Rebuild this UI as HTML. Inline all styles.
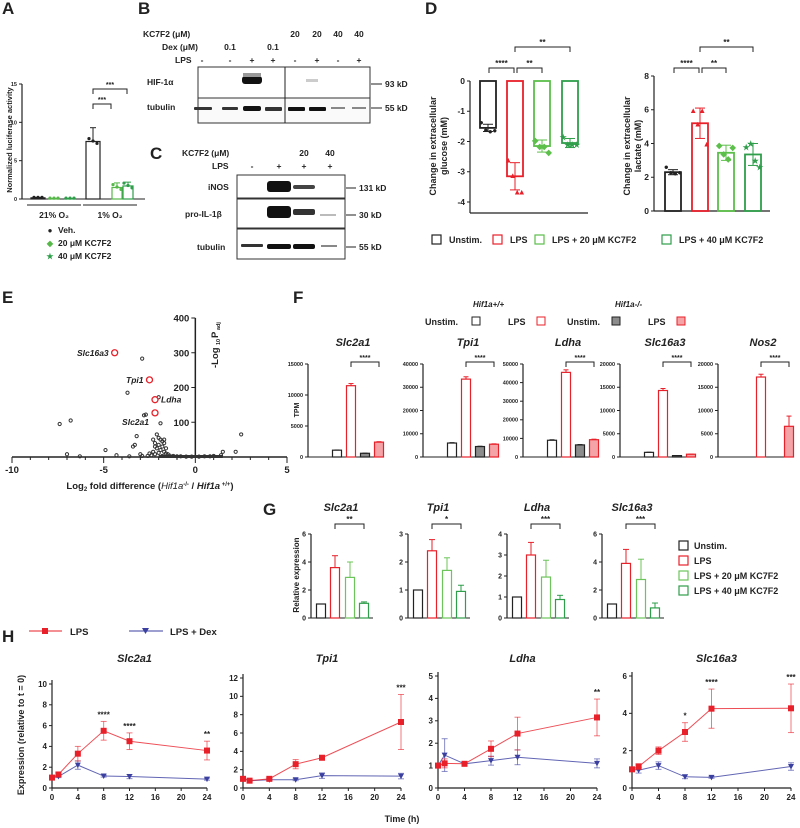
<!DOCTYPE html>
<html><head><meta charset="utf-8">
<style>
html,body{margin:0;padding:0;background:#fff;}
svg{display:block;font-family:"Liberation Sans",Arial,sans-serif;font-weight:bold;}
text{fill:#222;}
.it{font-style:italic;}
</style></head>
<body>
<svg id="fig" width="800" height="828" viewBox="0 0 800 828" xmlns="http://www.w3.org/2000/svg">
<g font-size="17">
<text x="2" y="14">A</text>
<text x="138" y="14">B</text>
<text x="150" y="159">C</text>
<text x="425" y="14">D</text>
<text x="2" y="303">E</text>
<text x="293" y="303">F</text>
<text x="263" y="515">G</text>
<text x="2" y="642">H</text>
</g>

<g font-size="8.5">
<text x="143" y="37">KC7F2 (μM)</text>
<text x="162" y="50">Dex (μM)</text>
<text x="175" y="63">LPS</text>
<g text-anchor="middle">
<text x="230" y="50">0.1</text><text x="273" y="50">0.1</text>
<text x="295" y="37">20</text><text x="317" y="37">20</text><text x="338" y="37">40</text><text x="359" y="37">40</text>
<text x="202" y="63">-</text><text x="230" y="63">-</text><text x="252" y="63">+</text><text x="273" y="63">+</text>
<text x="295" y="63">-</text><text x="317" y="63">+</text><text x="338" y="63">-</text><text x="359" y="63">+</text>
</g>
<rect x="198" y="67" width="172" height="31" fill="#fff" stroke="#333" stroke-width="1"/>
<rect x="198" y="98" width="172" height="25" fill="#fafafa" stroke="#333" stroke-width="1"/>
<line x1="285" y1="67" x2="285" y2="123" stroke="#222" stroke-width="1"/>
<rect x="242" y="76" width="20" height="8" rx="3" fill="#111"/>
<rect x="243" y="73" width="18" height="4" fill="#999"/>
<rect x="306" y="79" width="12" height="3" fill="#ccc"/>
<g fill="#333">
<rect x="194" y="107" width="18" height="3" rx="1"/><rect x="222" y="107" width="16" height="3" rx="1"/>
<rect x="243" y="106" width="18" height="5" rx="2" fill="#111"/><rect x="265" y="107" width="17" height="4" rx="1"/>
<rect x="288" y="107" width="17" height="4" rx="1" fill="#111"/><rect x="309" y="107" width="17" height="4" rx="1" fill="#111"/>
<rect x="331" y="107" width="14" height="2" fill="#888"/><rect x="352" y="107" width="14" height="2" fill="#888"/>
</g>
<text x="147" y="85">HIF-1α</text>
<text x="147" y="110">tubulin</text>
<line x1="371" y1="84" x2="382" y2="84" stroke="#222"/><line x1="371" y1="108" x2="382" y2="108" stroke="#222"/>
<text x="385" y="87">93 kD</text><text x="385" y="111">55 kD</text>
</g>

<g font-size="8.5">
<text x="182" y="156">KC7F2 (μM)</text>
<text x="212" y="169">LPS</text>
<g text-anchor="middle">
<text x="304" y="156">20</text><text x="330" y="156">40</text>
<text x="252" y="169">-</text><text x="279" y="169">+</text><text x="304" y="169">+</text><text x="330" y="169">+</text>
</g>
<rect x="237" y="175" width="108" height="23" fill="#fff" stroke="#333"/>
<rect x="237" y="199" width="108" height="29" fill="#fff" stroke="#333"/>
<rect x="237" y="229" width="108" height="30" fill="#fff" stroke="#333"/>
<rect x="267" y="181" width="24" height="11" rx="3" fill="#111"/>
<rect x="293" y="185" width="22" height="4" rx="2" fill="#444"/>
<rect x="267" y="206" width="24" height="12" rx="3" fill="#111"/>
<rect x="293" y="209" width="22" height="6" rx="2" fill="#333"/>
<rect x="320" y="214" width="16" height="2" fill="#bbb"/>
<rect x="241" y="244" width="22" height="3" rx="1" fill="#333"/>
<rect x="267" y="244" width="24" height="5" rx="2" fill="#111"/>
<rect x="293" y="244" width="22" height="5" rx="2" fill="#111"/>
<rect x="321" y="245" width="16" height="2" fill="#888"/>
<text x="208" y="190">iNOS</text>
<text x="185" y="217">pro-IL-1β</text>
<text x="197" y="250">tubulin</text>
<line x1="346" y1="188" x2="356" y2="188" stroke="#222"/><line x1="346" y1="215" x2="356" y2="215" stroke="#222"/><line x1="346" y1="247" x2="356" y2="247" stroke="#222"/>
<text x="359" y="191">131 kD</text><text x="359" y="218">30 kD</text><text x="359" y="250">55 kD</text>
</g>

<g id="charts"></g>
</svg>

<script>
// Panel A
const aGroups = ['21% O₂', '1% O₂'];
const aVeh = [0.15, 7.5];
const aVehErr = [0.05, 1.8];
const aK20 = [0.05, 1.5];
const aK20Err = [0.02, 0.6];
const aK40 = [0.05, 1.7];
const aK40Err = [0.02, 0.5];
const aTicks = [0, 5, 10, 15];

// Panel D
const dCats = ['Unstim.', 'LPS', 'LPS + 20 μM KC7F2', 'LPS + 40 μM KC7F2'];
const dGlucose = [-1.55, -3.15, -2.15, -2.05];
const dGlucoseErr = [0.12, 0.45, 0.2, 0.15];
const dGlucosePts = [[-1.35, -1.6, -1.65, -1.62], [-2.6, -3.1, -3.65, -3.65], [-1.95, -2.15, -2.15, -2.35], [-1.85, -2.1, -2.1, -2.1]];
const dGlucoseTicks = [0, -1, -2, -3, -4];
const dLactate = [2.3, 5.2, 3.45, 3.35];
const dLactateErr = [0.15, 0.9, 0.45, 0.65];
const dLactatePts = [[2.65, 2.3, 2.25, 2.3], [6.0, 5.2, 6.0, 4.0], [3.9, 3.4, 3.1, 3.8], [3.8, 4.0, 3.0, 2.6]];
const dLactateTicks = [0, 2, 4, 6, 8];

// Panel E volcano
const eGrey = [[-7.4,95],[-6.8,105],[-7.0,8],[-6.3,2],[-4.9,20],[-4.3,5],[-3.7,185],[-2.9,283],[-3.4,30],[-3.3,35],[-3.2,60],[-2.9,3],[-2.8,120],[-2.7,122],[-2.0,172],[-1.9,97],[-2.1,65],[-2.0,55],[-1.9,50],[-1.8,45],[-1.7,50],[-2.2,40],[-2.0,35],[-1.8,30],[-2.1,25],[-1.9,20],[-1.7,15],[-2.3,15],[-1.6,10],[-1.5,8],[-2.4,5],[-2.6,3],[-1.4,4],[-1.2,3],[-1.0,2],[-0.8,2],[-0.5,1],[-0.2,1],[0.2,1],[0.5,2],[0.8,2],[1.0,3],[1.4,5],[1.5,15],[2.2,15],[2.5,65],[-3.6,2],[-3.0,8],[-2.5,10],[-2.2,8],[-1.8,3],[-2.0,12],[-1.6,25],[-2.2,30],[-2.3,50],[-1.7,40]];
const eRedNames = ['Slc16a3', 'Tpi1', 'Ldha', 'Slc2a1'];
const eRedX = [-4.4, -2.5, -2.2, -2.2];
const eRedY = [300, 222, 165, 127];
const eXTicks = [-10, -5, 0, 5];
const eYTicks = [100, 200, 300, 400];

// Panel F (TPM)
const fGenes = ['Slc2a1', 'Tpi1', 'Ldha', 'Slc16a3', 'Nos2'];
const fMax = [15000, 40000, 50000, 20000, 20000];
const fStep = [5000, 10000, 10000, 5000, 5000];
const fSlc2a1 = [1100, 11500, 600, 2400];
const fTpi1 = [6000, 33500, 4500, 5500];
const fLdha = [9000, 45500, 6500, 9300];
const fSlc16a3 = [1000, 14300, 300, 600];
const fNos2 = [0, 17200, 0, 6600];
const fNos2Err = [0, 600, 0, 2200];

// Panel G
const gGenes = ['Slc2a1', 'Tpi1', 'Ldha', 'Slc16a3'];
const gMax = [6, 3, 4, 6];
const gStep = [2, 1, 1, 2];
const gStars = ['**', '*', '***', '***'];
const gSlc2a1 = [1, 3.6, 2.9, 1.05];
const gSlc2a1Err = [0, 0.85, 1.1, 0.1];
const gTpi1 = [1, 2.4, 1.7, 0.95];
const gTpi1Err = [0, 0.4, 0.45, 0.22];
const gLdha = [1, 3.0, 1.95, 0.88];
const gLdhaErr = [0, 0.6, 0.8, 0.2];
const gSlc16a3 = [1, 3.9, 2.75, 0.72];
const gSlc16a3Err = [0, 1.0, 1.45, 0.35];

// Panel H
const hTimes = [0, 1, 4, 8, 12, 24];
const hGenes = ['Slc2a1', 'Tpi1', 'Ldha', 'Slc16a3'];
const hYMax = [10, 12, 5, 6];
const hYStep = [2, 2, 1, 2];
const hSlc2a1Lps = [1, 1.3, 3.3, 5.5, 4.5, 3.6];
const hSlc2a1LpsErr = [0.1, 0.2, 0.7, 0.9, 0.8, 0.9];
const hSlc2a1Dex = [1, 1.1, 2.2, 1.15, 1.1, 0.85];
const hSlc2a1DexErr = [0.1, 0.1, 0.4, 0.1, 0.2, 0.1];
const hSlc2a1Stars = ['', '', '', '****', '****', '**'];
const hTpi1Lps = [1, 0.8, 1.0, 2.6, 3.3, 7.2];
const hTpi1LpsErr = [0.2, 0.1, 0.1, 0.5, 0.25, 3.0];
const hTpi1Dex = [1, 0.8, 0.9, 0.9, 1.35, 1.3];
const hTpi1DexErr = [0.1, 0.1, 0.1, 0.1, 0.3, 0.3];
const hTpi1Stars = ['', '', '', '', '', '***'];
const hLdhaLps = [1, 1.1, 1.08, 1.75, 2.43, 3.15];
const hLdhaLpsErr = [0.1, 0.2, 0.05, 0.35, 0.73, 0.82];
const hLdhaDex = [1, 1.47, 1.08, 1.22, 1.37, 1.1];
const hLdhaDexErr = [0.1, 0.73, 0.05, 0.2, 0.33, 0.2];
const hLdhaStars = ['', '', '', '', '', '**'];
const hSlc16a3Lps = [1, 1.15, 2.0, 3.0, 4.25, 4.27];
const hSlc16a3LpsErr = [0.1, 0.15, 0.2, 0.5, 1.05, 1.3];
const hSlc16a3Dex = [1, 0.95, 1.2, 0.6, 0.57, 1.15];
const hSlc16a3DexErr = [0.1, 0.15, 0.2, 0.1, 0.05, 0.2];
const hSlc16a3Stars = ['', '', '', '*', '****', '***'];

const NS = 'http://www.w3.org/2000/svg';
const root = document.getElementById('charts');
function mk(tag, attrs, parent) {
  const e = document.createElementNS(NS, tag);
  for (const k in attrs) e.setAttribute(k, attrs[k]);
  (parent || root).appendChild(e);
  return e;
}
function txt(x, y, s, attrs, parent) {
  const t = mk('text', Object.assign({x: x, y: y}, attrs || {}), parent);
  t.textContent = s;
  return t;
}
function lin(d0, d1, r0, r1) { return v => r0 + (v - d0) * (r1 - r0) / (d1 - d0); }
function line(x1, y1, x2, y2, stroke, w, parent) {
  return mk('line', {x1: x1, y1: y1, x2: x2, y2: y2, stroke: stroke || '#222', 'stroke-width': w || 1}, parent);
}
function bracket(x1, x2, y, stars, fs, parent) {
  const g = mk('g', {}, parent);
  
  
  mk('path', {d: `M${x1},${y + 5}V${y}H${x2}V${y + 5}`, fill: 'none', stroke: '#222', 'stroke-width': 1}, g);
  txt((x1 + x2) / 2, y - 2, stars, {'font-size': fs || 8, 'text-anchor': 'middle'}, g);
}
function yAxis(x, y0, y1, ticks, scale, fs, parent, fmt) {
  const g = mk('g', {}, parent);
  
  
  line(x, y0, x, y1, '#222', 1.2, g);
  ticks.forEach(t => {
    const y = scale(t);
    line(x - 3, y, x, y, '#222', 1, g);
    txt(x - 5, y + fs * 0.35, fmt ? fmt(t) : String(t), {'font-size': fs, 'text-anchor': 'end'}, g);
  });
  return g;
}

// PANEL A
(function () {
  const g = mk('g', {});
  
  
  const y = lin(0, 15, 199, 84);
  yAxis(22, 84, 199, aTicks, y, 5.5, g);
  line(22, 199, 145, 199, '#222', 1, g);
  const centers = [54, 110];
  const offs = [-17, 7, 18];
  const widths = [14, 10, 10];
  const cols = ['#222', '#55b848', '#2e9e4a'];
  const vals = [aVeh, aK20, aK40];
  const errs = [aVehErr, aK20Err, aK40Err];
  aGroups.forEach((grp, gi) => {
    vals.forEach((arr, si) => {
      const cx = centers[gi] + (gi === 0 ? (si - 1) * 16 : offs[si]);
      const w = widths[si];
      const v = arr[gi], e = errs[si][gi];
      const r = mk('rect', {x: cx - w / 2, y: y(v), width: w, height: y(0) - y(v), fill: 'none', stroke: cols[si], 'stroke-width': 1.2}, g);
      
      
      line(cx, y(v), cx, y(v + e), cols[si], 1, g);
      line(cx - 3, y(v + e), cx + 3, y(v + e), cols[si], 1, g);
      [-4, 0, 4].forEach(d => mk('circle', {cx: cx + d, cy: y(v) - 0.5 + (gi === 1 ? d * 0.6 : 0), r: 1.6, fill: cols[si]}, g));
    });
    line(centers[gi] - 27, 205, centers[gi] + 27, 205, '#222', 1, g);
    txt(centers[gi], 218, grp, {'font-size': 8.5, 'text-anchor': 'middle'}, g);
  });
  bracket(93, 111, 104, '***', 7, g);
  bracket(93, 127, 89, '***', 7, g);
  const yl = txt(0, 0, 'Normalized luciferase activity', {'font-size': 7.5, 'text-anchor': 'middle', transform: 'translate(12,140) rotate(-90)'}, g);
  
  
  const leg = [['Veh.', '#222', '●'], ['20 μM KC7F2', '#55b848', '◆'], ['40 μM KC7F2', '#2e9e4a', '★']];
  leg.forEach((l, i) => {
    const lg = mk('g', {}, g);
    
    
    const m = txt(50, 233 + i * 13, l[2], {'font-size': 8, 'text-anchor': 'middle'}, lg);
    m.style.fill = l[1];
    txt(58, 233 + i * 13, l[0], {'font-size': 8.5}, lg);
  });
})();

// PANEL D
const dCols = ['#222', '#e8202a', '#5cbf4a', '#2e9e4a'];
const dMarks = ['●', '▲', '◆', '★'];
function drawD(vals, errs, pts, ticks, axX, y0px, dTop, dBot, yTopPx, yBotPx, xEnd, bx, name, lab1, lab2, labOff) {
  const g = mk('g', {});
  
  
  const y = lin(dTop, dBot, yTopPx, yBotPx);
  yAxis(axX, Math.min(yTopPx, yBotPx), Math.max(yTopPx, yBotPx, y0px), ticks, y, 8.5, g);
  line(axX, y0px, xEnd, y0px, '#222', 1.2, g);
  vals.forEach((v, i) => {
    const cx = bx[i];
    const top = Math.min(y(0), y(v)), h = Math.abs(y(v) - y(0));
    const r = mk('rect', {x: cx - 8, y: top, width: 16, height: h, fill: 'none', stroke: dCols[i], 'stroke-width': 1.8}, g);
    
    
    const ye1 = y(v + errs[i]), ye2 = y(v - errs[i]);
    line(cx, ye1, cx, ye2, dCols[i], 1, g);
    line(cx - 5, ye1, cx + 5, ye1, dCols[i], 1, g);
    line(cx - 5, ye2, cx + 5, ye2, dCols[i], 1, g);
    pts[i].forEach((p, k) => {
      const m = txt(cx + (k - 1.5) * 4.5, y(p) + 3, dMarks[i], {'font-size': 8, 'text-anchor': 'middle'}, g);
      m.style.fill = dCols[i];
    });
  });
  const yl = txt(0, 0, lab1, {'font-size': 9, 'text-anchor': 'middle', transform: `translate(${axX - labOff},146) rotate(-90)`}, g);
  
  
  txt(0, 0, lab2, {'font-size': 9, 'text-anchor': 'middle', transform: `translate(${axX - labOff + 11},146) rotate(-90)`}, g);
  bracket(bx[0] + 1, bx[1] - 1, 68, '****', 8, g);
  bracket(bx[1] + 2, bx[2], 68, '**', 8, g);
  bracket(bx[1], bx[3], 47, '**', 8, g);
}
drawD(dGlucose, dGlucoseErr, dGlucosePts, dGlucoseTicks, 470, 213, 0, -4, 81, 202, 588, [488, 515, 542, 570], 'panel-d-glucose-chart', 'Change in extracellular', 'glucose (mM)', 34);
drawD(dLactate, dLactateErr, dLactatePts, dLactateTicks, 654, 211, 0, 8, 211, 76, 770, [673, 700, 726, 753], 'panel-d-lactate-chart', 'Change in extracellular', 'lactate (mM)', 24);
(function () {
  const g = mk('g', {});
  
  
  const xs = [432, 493, 535, 662];
  dCats.forEach((c, i) => {
    const lg = mk('g', {}, g);
    
    
    mk('rect', {x: xs[i], y: 235, width: 9, height: 9, fill: 'none', stroke: dCols[i], 'stroke-width': 1.2}, lg);
    txt(xs[i] + 17, 243, c, {'font-size': 9}, lg);
  });
})();

// PANEL E
(function () {
  const g = mk('g', {});
  
  
  const x = lin(-10, 5, 12, 287);
  const y = lin(0, 400, 457, 318);
  line(12, 457, 287, 457, '#222', 1.5, g);
  for (let t = -10; t <= 5; t++) line(x(t), 457, x(t), t % 5 === 0 ? 463 : 460, '#222', 1, g);
  eXTicks.forEach(t => txt(x(t), 473, String(t), {'font-size': 9.5, 'text-anchor': 'middle'}, g));
  line(x(0), 318, x(0), 457, '#222', 1.5, g);
  eYTicks.forEach(t => {
    line(x(0) - 4, y(t), x(0), y(t), '#222', 1, g);
    txt(x(0) - 6, y(t) + 3.5, String(t), {'font-size': 9.5, 'text-anchor': 'end'}, g);
  });
  mk('rect', {x: x(-2), y: 455, width: x(1.5) - x(-2), height: 3, fill: '#333'}, g);
  eGrey.forEach(p => {
    const c = mk('circle', {cx: x(p[0]), cy: y(p[1]), r: 1.6, fill: 'none', stroke: '#333', 'stroke-width': 1}, g);
    
    
  });
  const lx = [-1, -1, 1, -1];
  const ly = [3, 3, 3, 12];
  eRedNames.forEach((n, i) => {
    const c = mk('circle', {cx: x(eRedX[i]), cy: y(eRedY[i]), r: 3, fill: 'none', stroke: '#e8202a', 'stroke-width': 1.3}, g);
    
    
    txt(x(eRedX[i]) + lx[i] * 6, y(eRedY[i]) + ly[i], n, {'font-size': 8.5, 'text-anchor': lx[i] < 0 ? 'end' : 'start', 'class': 'it'}, g);
  });
  const yl = txt(0, 0, '-Log', {'font-size': 9.5, 'text-anchor': 'start', transform: 'translate(218,368) rotate(-90)'}, g);
  
  
  txt(0, 0, '10', {'font-size': 5.5, transform: 'translate(220,345) rotate(-90)'}, g);
  txt(0, 0, 'P', {'font-size': 9.5, transform: 'translate(218,338) rotate(-90)'}, g);
  txt(0, 0, 'adj', {'font-size': 5.5, transform: 'translate(220,330) rotate(-90)'}, g);
  const xl = mk('text', {x: 150, y: 489, 'font-size': 9.5, 'text-anchor': 'middle'}, g);
  
  
  xl.innerHTML = 'Log<tspan font-size="6" dy="2">2</tspan><tspan dy="-2"> fold difference (</tspan><tspan font-style="italic" font-weight="normal">Hif1a</tspan><tspan font-size="6" dy="-3">-/-</tspan><tspan dy="3"> / </tspan><tspan font-style="italic">Hif1a</tspan><tspan font-size="6" dy="-3"> +/+</tspan><tspan dy="3">)</tspan>';
})();

// PANEL F
const fFill = ['none', 'none', '#8c8c8c', '#f4a3a6'];
const fStroke = ['#222', '#e8202a', '#222', '#e8202a'];
(function () {
  const leg = mk('g', {});
  
  
  txt(473, 307, 'Hif1a+/+', {'font-size': 8, 'class': 'it'}, leg);
  txt(615, 307, 'Hif1a-/-', {'font-size': 8, 'class': 'it'}, leg);
  const labs = ['Unstim.', 'LPS', 'Unstim.', 'LPS'];
  const tx = [425, 508, 567, 648];
  const bxs = [472, 537, 612, 677];
  labs.forEach((l, i) => {
    const e = mk('g', {}, leg);
    
    
    txt(tx[i], 325, l, {'font-size': 9}, e);
    mk('rect', {x: bxs[i], y: 317, width: 8, height: 8, fill: fFill[i] === 'none' ? '#fff' : fFill[i], stroke: fStroke[i], 'stroke-width': 1}, e);
  });
  const all = [fSlc2a1, fTpi1, fLdha, fSlc16a3, fNos2];
  const axXs = [308, 423, 523, 620, 718];
  fGenes.forEach((gname, ci) => {
    const g = mk('g', {});
    
    
    const ax = axXs[ci];
    const y = lin(0, fMax[ci], 457, 364);
    const ticks = [];
    for (let t = 0; t <= fMax[ci]; t += fStep[ci]) ticks.push(t);
    yAxis(ax, 364, 457, ticks, y, 5.5, g);
    line(ax, 457, ax + 75, 457, '#222', 1, g);
    txt(ax + 45, 346, gname, {'font-size': 11, 'text-anchor': 'middle', 'class': 'it'}, g);
    const bx = [ax + 29, ax + 43, ax + 57, ax + 71];
    all[ci].forEach((v, i) => {
      if (v <= 0) return;
      const r = mk('rect', {x: bx[i] - 4.5, y: y(v), width: 9, height: y(0) - y(v), fill: fFill[i], stroke: fStroke[i], 'stroke-width': 1.2}, g);
      
      
      const e = ci === 4 ? fNos2Err[i] : v * 0.03;
      line(bx[i], y(v), bx[i], y(v + e), fStroke[i], 1, g);
      line(bx[i] - 2.5, y(v + e), bx[i] + 2.5, y(v + e), fStroke[i], 1, g);
    });
    bracket(bx[1], bx[3], 362, '****', 7, g);
  });
  const tl = txt(0, 0, 'TPM', {'font-size': 7, 'text-anchor': 'middle', transform: 'translate(299,410) rotate(-90)'});
  
  
})();

// PANEL G
const gCols = ['#222', '#e8202a', '#6cc45a', '#2e9e4a'];
(function () {
  const all = [gSlc2a1, gTpi1, gLdha, gSlc16a3];
  const allE = [gSlc2a1Err, gTpi1Err, gLdhaErr, gSlc16a3Err];
  const axXs = [311, 408, 507, 602];
  gGenes.forEach((gname, ci) => {
    const g = mk('g', {});
    
    
    const ax = axXs[ci];
    const y = lin(0, gMax[ci], 618, 534);
    const ticks = [];
    for (let t = 0; t <= gMax[ci]; t += gStep[ci]) ticks.push(t);
    yAxis(ax, 534, 618, ticks, y, 7, g);
    line(ax, 618, ax + 62, 618, '#222', 1, g);
    txt(ax + 30, 511, gname, {'font-size': 11, 'text-anchor': 'middle', 'class': 'it'}, g);
    const bx = [ax + 10, ax + 24, ax + 39, ax + 53];
    all[ci].forEach((v, i) => {
      const r = mk('rect', {x: bx[i] - 4.5, y: y(v), width: 9, height: y(0) - y(v), fill: 'none', stroke: gCols[i], 'stroke-width': 1.2}, g);
      
      
      const e = allE[ci][i];
      if (e > 0) {
        line(bx[i], y(v), bx[i], y(v + e), gCols[i], 1, g);
        line(bx[i] - 3, y(v + e), bx[i] + 3, y(v + e), gCols[i], 1, g);
      }
    });
    bracket(bx[1], bx[3], 524, gStars[ci], 8, g);
  });
  const yl = txt(0, 0, 'Relative expression', {'font-size': 8, 'text-anchor': 'middle', transform: 'translate(299,575) rotate(-90)'});
  
  
  const leg = mk('g', {});
  
  
  dCats.forEach((c, i) => {
    const e = mk('g', {}, leg);
    
    
    mk('rect', {x: 679, y: 541 + i * 15, width: 9, height: 9, fill: 'none', stroke: gCols[i], 'stroke-width': 1.2}, e);
    txt(694, 549 + i * 15, c, {'font-size': 9}, e);
  });
})();

// PANEL H
(function () {
  const leg = mk('g', {});
  
  
  const e1 = mk('g', {}, leg);
  
  
  line(29, 631, 62, 631, '#e8202a', 1, e1);
  mk('rect', {x: 42, y: 628, width: 6, height: 6, fill: '#e8202a'}, e1);
  txt(70, 635, 'LPS', {'font-size': 9.5}, e1);
  const e2 = mk('g', {}, leg);
  
  
  line(129, 631, 163, 631, '#3a3fa0', 1, e2);
  mk('path', {d: 'M142,628L149,628L145.5,634Z', fill: '#3a3fa0'}, e2);
  txt(170, 635, 'LPS + Dex', {'font-size': 9.5}, e2);

  const lps = [hSlc2a1Lps, hTpi1Lps, hLdhaLps, hSlc16a3Lps];
  const lpsE = [hSlc2a1LpsErr, hTpi1LpsErr, hLdhaLpsErr, hSlc16a3LpsErr];
  const dex = [hSlc2a1Dex, hTpi1Dex, hLdhaDex, hSlc16a3Dex];
  const dexE = [hSlc2a1DexErr, hTpi1DexErr, hLdhaDexErr, hSlc16a3DexErr];
  const stars = [hSlc2a1Stars, hTpi1Stars, hLdhaStars, hSlc16a3Stars];
  const ax0 = [52, 243, 438, 632];
  const ax24 = [207, 401, 597, 791];
  const yTopPx = [684, 678, 676, 676];
  hGenes.forEach((gname, ci) => {
    const g = mk('g', {});
    
    
    const x = lin(0, 24, ax0[ci], ax24[ci]);
    const y = lin(0, hYMax[ci], 788, yTopPx[ci]);
    const ticks = [];
    for (let t = 0; t <= hYMax[ci]; t += hYStep[ci]) ticks.push(t);
    yAxis(x(0), yTopPx[ci] - 4, 788, ticks, y, 8, g);
    line(x(0), 788, x(24), 788, '#222', 1.2, g);
    [0, 4, 8, 12, 16, 20, 24].forEach(t => {
      line(x(t), 788, x(t), 791, '#222', 1, g);
      txt(x(t), 800, String(t), {'font-size': 8, 'text-anchor': 'middle'}, g);
    });
    txt((x(0) + x(24)) / 2 + 5, 662, gname, {'font-size': 11, 'text-anchor': 'middle', 'class': 'it'}, g);
    [[dex[ci], dexE[ci], '#3a3fa0', 'dex'], [lps[ci], lpsE[ci], '#e8202a', 'lps']].forEach(s => {
      const pts = hTimes.map((t, i) => x(t) + ',' + y(s[0][i])).join(' ');
      const pl = mk('polyline', {points: pts, fill: 'none', stroke: s[2], 'stroke-width': 1, opacity: 0.8}, g);
      
      
      hTimes.forEach((t, i) => {
        const cx = x(t), v = s[0][i], e = s[1][i];
        line(cx, y(v - e), cx, y(v + e), s[2], 1, g).setAttribute('opacity', 0.6);
        line(cx - 3, y(v + e), cx + 3, y(v + e), s[2], 1, g).setAttribute('opacity', 0.6);
        line(cx - 3, y(v - e), cx + 3, y(v - e), s[2], 1, g).setAttribute('opacity', 0.6);
        if (s[3] === 'lps') {
          const m = mk('rect', {x: cx - 3, y: y(v) - 3, width: 6, height: 6, fill: s[2]}, g);
          
          
        } else {
          const m = mk('path', {d: `M${cx - 3},${y(v) - 2.5}L${cx + 3},${y(v) - 2.5}L${cx},${y(v) + 3}Z`, fill: s[2]}, g);
          
          
        }
      });
    });
    stars[ci].forEach((st, i) => {
      if (!st) return;
      const top = y(lps[ci][i] + lpsE[ci][i]);
      txt(x(hTimes[i]), Math.max(yTopPx[ci] + 4, top - 4), st, {'font-size': 8, 'text-anchor': 'middle'}, g);
    });
  });
  const yl = txt(0, 0, 'Expression (relative to t = 0)', {'font-size': 9, 'text-anchor': 'middle', transform: 'translate(24,735) rotate(-90)'});
  
  
  const xl = txt(402, 822, 'Time (h)', {'font-size': 9, 'text-anchor': 'middle'});
  
  
})();
</script>
</body></html>
